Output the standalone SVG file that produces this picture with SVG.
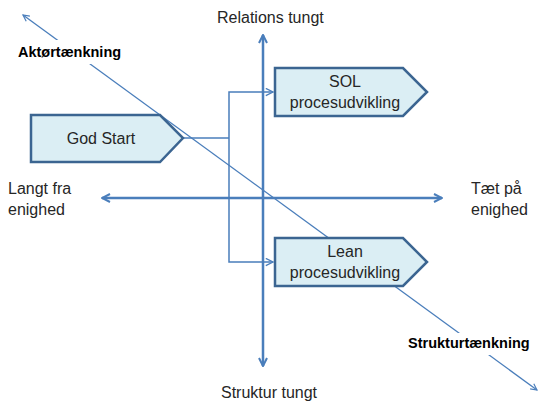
<svg xmlns="http://www.w3.org/2000/svg" width="538" height="403" viewBox="0 0 538 403">
<style>
.axis{stroke:#4a7ebb;stroke-width:2.5;fill:none}
.conn{stroke:#4a7ebb;stroke-width:1.5;fill:none}
.diag{stroke:#4a7ebb;stroke-width:1.3;fill:none}
.node{fill:#dbeef4;stroke:#3b6591;stroke-width:2.5;stroke-linejoin:miter}
.lbl{font-family:"Liberation Sans",Arial,sans-serif;font-size:16px;fill:#262626}
.bold{font-family:"Liberation Sans",Arial,sans-serif;font-size:14.5px;font-weight:bold;fill:#000}
</style>
<defs>
<marker id="ax" viewBox="0 0 10 10" refX="9" refY="5" markerWidth="4" markerHeight="4" orient="auto-start-reverse" markerUnits="strokeWidth">
<path d="M1,1 L9,5 L1,9" fill="none" stroke="#4a7ebb" stroke-width="2"/>
</marker>
<marker id="sm" viewBox="0 0 10 10" refX="9" refY="5" markerWidth="6" markerHeight="6" orient="auto-start-reverse" markerUnits="strokeWidth">
<path d="M1,1 L9,5 L1,9" fill="none" stroke="#4a7ebb" stroke-width="1.5"/>
</marker>
</defs>
<rect width="538" height="403" fill="#fff"/>
<g id="connectors">
<line class="diag" x1="23" y1="15" x2="537" y2="390" marker-start="url(#sm)" marker-end="url(#sm)"/>
<line class="axis" x1="263" y1="366" x2="263" y2="35" marker-end="url(#ax)" marker-start="url(#ax)"/>
<line class="axis" x1="102" y1="198" x2="442" y2="198" marker-start="url(#ax)" marker-end="url(#ax)"/>
<polyline class="conn" points="183,138 229,138"/>
<polyline class="conn" points="273,92 229,92 229,262 273,262" marker-start="url(#sm)" marker-end="url(#sm)"/>
</g>
<g id="label-akt">
<rect x="14" y="40" width="112" height="24" fill="#fff"/>
<text class="bold" x="18" y="57">Aktørtænkning</text>
</g>
<g id="label-struk">
<rect x="404" y="333" width="130" height="22" fill="#fff"/>
<text class="bold" x="408" y="348">Strukturtænkning</text>
</g>
<g id="godstart">
<polygon class="node" points="31,115 160,115 183,138 160,162 31,162"/>
<text class="lbl" x="101" y="144" text-anchor="middle">God Start</text>
</g>
<g id="sol">
<polygon class="node" points="275,68 403,68 427,92 403,116 275,116"/>
<text class="lbl" x="345" y="87" text-anchor="middle">SOL</text>
<text class="lbl" x="345" y="108" text-anchor="middle">procesudvikling</text>
</g>
<g id="lean">
<polygon class="node" points="275,238 403,238 427,262 403,286 275,286"/>
<text class="lbl" x="345" y="257" text-anchor="middle">Lean</text>
<text class="lbl" x="345" y="278" text-anchor="middle">procesudvikling</text>
</g>
<g id="labels">
<text class="lbl" x="217" y="23">Relations tungt</text>
<text class="lbl" x="221" y="398">Struktur tungt</text>
<text class="lbl" x="8" y="194">Langt fra</text>
<text class="lbl" x="8" y="215">enighed</text>
<text class="lbl" x="471" y="194">Tæt på</text>
<text class="lbl" x="471" y="215">enighed</text>
</g>
</svg>
